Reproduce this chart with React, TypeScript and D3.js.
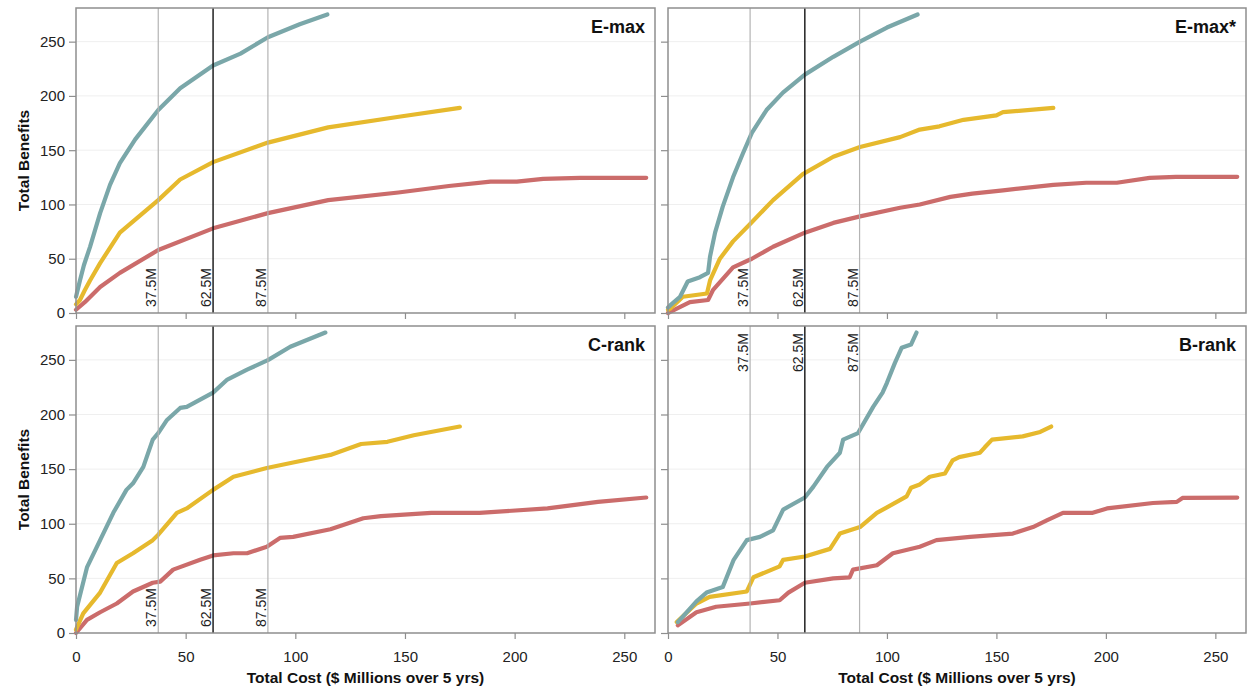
import React, { useRef, useEffect } from "react";
import * as d3 from "d3";

type Pt = [number, number];

// axes / labels
const costTicks = [0, 50, 100, 150, 200, 250];
const benefitTicks = [0, 50, 100, 150, 200, 250];
const budgetLines = [37.5, 62.5, 87.5];
const budgetLabels = ["37.5M", "62.5M", "87.5M"];
const panelTitles = ["E-max", "E-max*", "C-rank", "B-rank"];

// [cost ($M), total benefits]
const emaxTeal: Pt[] = [[0, 15], [1.8, 30], [3.6, 44], [6.4, 61], [11, 92], [15.5, 118], [20, 138], [27, 160], [37.5, 187], [47.5, 207], [62.5, 228], [75, 239], [87.5, 254], [102, 266], [114.6, 275]];
const emaxYellow: Pt[] = [[0, 8], [1.8, 12], [4, 21], [6.4, 30], [11, 46], [20, 74], [37.5, 104], [47.5, 123], [62.5, 139], [87.5, 157], [115, 171], [148, 181], [175, 189]];
const emaxRed: Pt[] = [[0, 3], [4, 10], [11, 24], [20, 37], [37.5, 58], [62.5, 78], [87.5, 92], [115, 104], [147, 111], [170, 117], [189, 121], [201, 121], [213, 123.6], [230, 124.5], [260, 124.5]];

const emaxStarTeal: Pt[] = [[0, 5], [1, 7], [5.5, 15], [9, 29], [14.6, 33], [18.3, 37], [19.2, 52], [21.5, 74], [25, 98], [29.7, 125], [34.2, 147], [38.3, 166], [45, 187], [52.5, 203], [62.5, 219.6], [75.5, 236], [87.7, 250], [100, 263], [114, 275]];
const emaxStarYellow: Pt[] = [[0, 3], [1, 4], [6.8, 15], [17.8, 18], [19.2, 30], [23.7, 50], [29.7, 66], [37.5, 82], [48, 104], [61.6, 128], [75.5, 144], [87.7, 153], [106, 162], [115, 169], [124, 172], [135, 178], [150, 182], [153, 185], [176, 189]];
const emaxStarRed: Pt[] = [[0, 0], [1, 1], [10, 10], [18.3, 12], [20.5, 21], [29.7, 42], [38.3, 50], [48, 61], [62.5, 74], [75.5, 83], [87.7, 89], [106, 97], [115, 100], [129, 107], [139, 110], [153, 113], [176, 118], [191, 120], [205, 120], [220, 124.5], [232, 125.5], [260, 125.5]];

const crankTeal: Pt[] = [[0, 12], [0.5, 24], [5, 60], [11, 85], [17, 110], [23, 131], [26, 137], [30.7, 152], [35, 177], [37.5, 183], [41.5, 195], [47.5, 206], [50.5, 207], [62.5, 220], [69, 232], [78, 241], [87.7, 250], [97.7, 262], [113.7, 275]];
const crankYellow: Pt[] = [[0, 3], [3.3, 18], [11, 37], [18.6, 64], [26, 73], [35, 85], [37.5, 90], [46, 110], [50.5, 114], [62.5, 131], [71.8, 143], [87, 151], [99, 156], [116, 163], [130, 173], [142, 175], [154, 181], [175, 189]];
const crankRed: Pt[] = [[0, 0], [5, 12], [11, 19], [18.6, 27], [26, 38], [35, 46], [38.4, 47], [44.3, 58], [56.6, 67], [62.5, 71], [71.8, 73], [78, 73], [87, 79], [93, 87], [99, 88], [116, 95], [131, 105], [139, 107], [162, 110], [184, 110], [215, 114], [238, 120], [260, 124]];

const brankTeal: Pt[] = [[4.5, 10], [13, 29], [17.6, 37], [25, 42], [30, 67], [36, 85], [42, 88], [48, 94], [52.6, 113], [62.5, 124], [66.4, 134], [72.6, 152], [78.5, 165], [80, 177], [86.8, 183], [93.7, 207], [98, 220], [100, 229], [103.6, 247], [106.7, 261], [111, 264], [113.5, 275]];
const brankYellow: Pt[] = [[4, 10], [13, 27], [19, 33], [36, 38], [39, 51], [51, 61], [52.6, 67], [62.5, 70], [74, 77], [78.5, 91], [87.7, 97], [95.4, 110], [100, 115], [109, 125], [111, 133], [115, 136], [119.6, 143], [126.5, 146], [130, 158], [133, 161], [142.5, 165], [144.7, 170], [148, 177], [162, 180], [170, 184], [175, 189]];
const brankRed: Pt[] = [[4.5, 7], [13, 19], [22, 24], [37.5, 27], [51, 30], [55, 37], [62.5, 46], [75.5, 50], [83, 51], [84.5, 58], [95.4, 62], [102.7, 73], [115, 79], [122.6, 85], [138, 88], [157.5, 91], [166.7, 97], [173, 103], [180.4, 110], [194, 110], [200.5, 114], [221.5, 119], [232.4, 120], [235, 123.6], [260, 124]];

const panelSeries: Pt[][][] = [
	[emaxRed, emaxYellow, emaxTeal],
	[emaxStarRed, emaxStarYellow, emaxStarTeal],
	[crankRed, crankYellow, crankTeal],
	[brankRed, brankYellow, brankTeal],
];
const seriesColors = ["#cb6c6b", "#e6b92d", "#7aa7a9"];

const App = () => {
	const chartRef = useRef<SVGSVGElement>(null);

	useEffect(() => {
		const width = 1253;
		const height = 688;
		const font = "'Liberation Sans', Arial, sans-serif";

		d3.select(chartRef.current).selectAll("*").remove();

		const svg = d3
			.select(chartRef.current)
			.attr("width", width)
			.attr("height", height)
			.style("font-family", font);

		svg.append("rect").attr("width", width).attr("height", height).attr("fill", "#fff");

		panelTitles.forEach((title, i) => {
			const col = i % 2;
			const row = Math.floor(i / 2);
			const left = col ? 668 : 76;
			const right = col ? 1246 : 655;
			const top = row ? 326 : 8;
			const bottom = row ? 633 : 313;

			const x = d3.scaleLinear().domain([0, 264]).range([left, right]);
			const y = d3.scaleLinear().domain([0, 281]).range([bottom, top]);

			const g = svg.append("g");

			// faint horizontal grid
			g.selectAll(".grid")
				.data(benefitTicks.slice(1))
				.enter()
				.append("line")
				.attr("x1", left)
				.attr("x2", right)
				.attr("y1", d => y(d))
				.attr("y2", d => y(d))
				.attr("stroke", "#efefef")
				.attr("stroke-width", 1);

			// curves
			const line = d3.line<Pt>()
				.x(d => x(d[0]))
				.y(d => y(d[1]));

			panelSeries[i].forEach((s, k) => {
				g.append("path")
					.datum(s)
					.attr("d", line)
					.attr("fill", "none")
					.attr("stroke", seriesColors[k])
					.attr("stroke-width", 4.2)
					.attr("stroke-linejoin", "round")
					.attr("stroke-linecap", "round");
			});

			// budget lines
			budgetLines.forEach((b, k) => {
				g.append("line")
					.attr("x1", x(b))
					.attr("x2", x(b))
					.attr("y1", top)
					.attr("y2", bottom)
					.attr("stroke", k === 1 ? "#111" : "#b4b4b4")
					.attr("stroke-width", k === 1 ? 1.4 : 1.2);

				const ly = i === 3 ? top + 7 : bottom - 6;
				g.append("text")
					.attr("transform", `translate(${x(b) - 2},${ly}) rotate(-90)`)
					.attr("text-anchor", i === 3 ? "end" : "start")
					.attr("font-size", 14)
					.attr("fill", "#222")
					.text(budgetLabels[k]);
			});

			// frame
			g.append("rect")
				.attr("x", left)
				.attr("y", top)
				.attr("width", right - left)
				.attr("height", bottom - top)
				.attr("fill", "none")
				.attr("stroke", "#8e8e8e")
				.attr("stroke-width", 1.5);

			// axes
			const yAxis = d3.axisLeft(y)
				.tickValues(benefitTicks)
				.tickSize(7)
				.tickFormat(d => (col ? "" : String(d)));
			const ya = g.append("g").attr("transform", `translate(${left},0)`).call(yAxis);
			ya.select(".domain").remove();

			const xAxis = d3.axisBottom(x)
				.tickValues(costTicks)
				.tickSize(6)
				.tickFormat(d => (row ? String(d) : ""));
			const xa = g.append("g").attr("transform", `translate(0,${bottom})`).call(xAxis);
			xa.select(".domain").remove();

			[ya, xa].forEach(a => {
				a.selectAll("line").attr("stroke", "#8e8e8e").attr("stroke-width", 1.2);
				a.selectAll("text")
					.attr("font-size", 15)
					.attr("font-family", font)
					.attr("fill", "#222");
			});
			ya.selectAll("text").attr("x", -11);
			xa.selectAll("text").attr("y", 18);

			// panel title
			g.append("text")
				.attr("x", right - 10)
				.attr("y", top + 25)
				.attr("text-anchor", "end")
				.attr("font-size", 18)
				.attr("font-weight", "bold")
				.attr("fill", "#111")
				.text(title);

			if (!col) {
				g.append("text")
					.attr("transform", `translate(29,${(top + bottom) / 2}) rotate(-90)`)
					.attr("text-anchor", "middle")
					.attr("font-size", 15.5)
					.attr("font-weight", "bold")
					.attr("fill", "#111")
					.text("Total Benefits");
			}
			if (row) {
				g.append("text")
					.attr("x", (left + right) / 2)
					.attr("y", 683)
					.attr("text-anchor", "middle")
					.attr("font-size", 15.5)
					.attr("font-weight", "bold")
					.attr("fill", "#111")
					.text("Total Cost ($ Millions over 5 yrs)");
			}
		});
	}, []);

	return <svg ref={chartRef} style={{ position: "absolute", left: 0, top: 0 }}></svg>;
};

export default App;
